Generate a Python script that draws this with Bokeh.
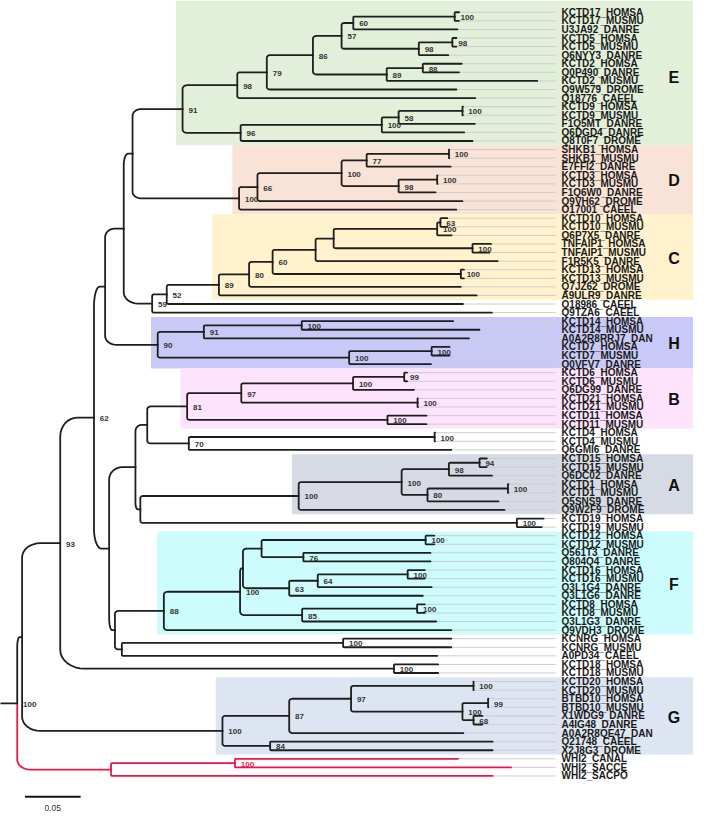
import numpy as np
from bokeh.plotting import figure
from bokeh.models import Range1d
from bokeh.embed import file_html
from bokeh.resources import INLINE
from bokeh.core.properties import value

# ---------------- data ----------------
leaf_names = [
    "KCTD17_HOMSA", "KCTD17_MUSMU", "U3JA92_DANRE", "KCTD5_HOMSA", "KCTD5_MUSMU",
    "Q6NYY3_DANRE", "KCTD2_HOMSA", "Q0P490_DANRE", "KCTD2_MUSMU", "Q9W579_DROME",
    "Q18776_CAEEL", "KCTD9_HOMSA", "KCTD9_MUSMU", "F1Q5MT_DANRE", "Q6DGD4_DANRE",
    "Q8T0F7_DROME", "SHKB1_HOMSA", "SHKB1_MUSMU", "E7FFI2_DANRE", "KCTD3_HOMSA",
    "KCTD3_MUSMU", "F1Q6W0_DANRE", "Q9VH62_DROME", "O17001_CAEEL", "KCTD10_HOMSA",
    "KCTD10_MUSMU", "Q6P7X5_DANRE", "TNFAIP1_HOMSA", "TNFAIP1_MUSMU", "F1R5K5_DANRE",
    "KCTD13_HOMSA", "KCTD13_MUSMU", "Q7JZ62_DROME", "A9ULR9_DANRE", "Q18986_CAEEL",
    "Q9TZA6_CAEEL", "KCTD14_HOMSA", "KCTD14_MUSMU", "A0A2R8RRJ7_DAN", "KCTD7_HOMSA",
    "KCTD7_MUSMU", "Q0VFV7_DANRE", "KCTD6_HOMSA", "KCTD6_MUSMU", "Q6DG99_DANRE",
    "KCTD21_HOMSA", "KCTD21_MUSMU", "KCTD11_HOMSA", "KCTD11_MUSMU", "KCTD4_HOMSA",
    "KCTD4_MUSMU", "Q6GMI6_DANRE", "KCTD15_HOMSA", "KCTD15_MUSMU", "Q6DC02_DANRE",
    "KCTD1_HOMSA", "KCTD1_MUSMU", "Q5SNS9_DANRE", "Q9W2F9_DROME", "KCTD19_HOMSA",
    "KCTD19_MUSMU", "KCTD12_HOMSA", "KCTD12_MUSMU", "Q561T3_DANRE", "Q804Q4_DANRE",
    "KCTD16_HOMSA", "KCTD16_MUSMU", "Q3L1G4_DANRE", "Q3L1G6_DANRE", "KCTD8_HOMSA",
    "KCTD8_MUSMU", "Q3L1G3_DANRE", "Q9VDH3_DROME", "KCNRG_HOMSA", "KCNRG_MUSMU",
    "A0PD34_CAEEL", "KCTD18_HOMSA", "KCTD18_MUSMU", "KCTD20_HOMSA", "KCTD20_MUSMU",
    "BTBD10_HOMSA", "BTBD10_MUSMU", "X1WDG9_DANRE", "A4IG48_DANRE", "A0A2R8QE47_DAN",
    "Q21748_CAEEL", "X2J8G3_DROME", "WHI2_CANAL", "WHI2_SACCE", "WHI2_SACPO",
]

# distance from the root (substitutions / site)
leaf_depth = [
    0.3965, 0.3965, 0.3951, 0.3941, 0.3941, 0.3868, 0.3989, 0.3965, 0.4667, 0.3941,
    0.4111, 0.4000, 0.4000, 0.4107, 0.4011, 0.4086, 0.3877, 0.3877, 0.3890, 0.3772,
    0.3772, 0.3754, 0.3996, 0.3941, 0.3860, 0.3860, 0.3899, 0.4252, 0.4237, 0.4312,
    0.4009, 0.4009, 0.3981, 0.4123, 0.4000, 0.4261, 0.3912, 0.4149, 0.4055, 0.3880,
    0.3880, 0.3714, 0.3498, 0.3498, 0.3561, 0.3596, 0.3596, 0.3673, 0.3673, 0.3750,
    0.3750, 0.3895, 0.4214, 0.4214, 0.4261, 0.4408, 0.4408, 0.4319, 0.4373, 0.4724,
    0.4707, 0.3743, 0.3743, 0.3709, 0.3709, 0.3658, 0.3658, 0.3719, 0.3640, 0.3658,
    0.3658, 0.3760, 0.3896, 0.3895, 0.3895, 0.3770, 0.3778, 0.3778, 0.4096, 0.4096,
    0.4228, 0.4228, 0.4175, 0.4175, 0.4004, 0.4266, 0.4266, 0.3956, 0.4432, 0.4266,
]

node_ids = [
    "e1", "e2", "e3", "e4", "e5", "e6", "e7", "e8", "e9", "e10", "e11", "e12", "e13", "e14", "e15",
    "d1", "d2", "d3", "d4", "d5", "d6", "d7", "p1",
    "c1", "c2", "c3", "c4", "c5", "c6", "c7", "c8", "c9", "c10", "c11", "p2",
    "h1", "h2", "h3", "h4", "h5", "p3",
    "b1", "b2", "b3", "b4", "b5", "b6", "k4", "k5", "s",
    "a1", "a2", "a3", "a4", "a5", "a6", "k19", "t", "r",
    "f1", "f2", "f3", "f4", "f5", "f6", "f7", "f8", "f9", "f10", "f11",
    "kn", "v", "u", "q", "p4", "k18", "n93",
    "g1", "g2", "g3", "g4", "g5", "g6", "g7", "g8", "k", "w1", "w2", "root",
]

node_kids = [
    ["KCTD17_HOMSA", "KCTD17_MUSMU"], ["e1", "U3JA92_DANRE"], ["KCTD5_HOMSA", "KCTD5_MUSMU"],
    ["e3", "Q6NYY3_DANRE"], ["e2", "e4"], ["KCTD2_HOMSA", "Q0P490_DANRE"], ["e6", "KCTD2_MUSMU"],
    ["e5", "e7"], ["e8", "Q9W579_DROME"], ["e9", "Q18776_CAEEL"], ["KCTD9_HOMSA", "KCTD9_MUSMU"],
    ["e11", "F1Q5MT_DANRE"], ["e12", "Q6DGD4_DANRE"], ["e13", "Q8T0F7_DROME"], ["e10", "e14"],
    ["SHKB1_HOMSA", "SHKB1_MUSMU"], ["d1", "E7FFI2_DANRE"], ["KCTD3_HOMSA", "KCTD3_MUSMU"],
    ["d3", "F1Q6W0_DANRE"], ["d2", "d4"], ["d5", "Q9VH62_DROME"], ["d6", "O17001_CAEEL"], ["e15", "d7"],
    ["KCTD10_HOMSA", "KCTD10_MUSMU"], ["c1", "Q6P7X5_DANRE"], ["TNFAIP1_HOMSA", "TNFAIP1_MUSMU"],
    ["c2", "c3"], ["c4", "F1R5K5_DANRE"], ["KCTD13_HOMSA", "KCTD13_MUSMU"], ["c5", "c6"],
    ["c7", "Q7JZ62_DROME"], ["c8", "A9ULR9_DANRE"], ["c9", "Q18986_CAEEL"], ["c10", "Q9TZA6_CAEEL"],
    ["p1", "c11"],
    ["KCTD14_HOMSA", "KCTD14_MUSMU"], ["h1", "A0A2R8RRJ7_DAN"], ["KCTD7_HOMSA", "KCTD7_MUSMU"],
    ["h3", "Q0VFV7_DANRE"], ["h2", "h4"], ["p2", "h5"],
    ["KCTD6_HOMSA", "KCTD6_MUSMU"], ["b1", "Q6DG99_DANRE"], ["KCTD21_HOMSA", "KCTD21_MUSMU"],
    ["b2", "b3"], ["KCTD11_HOMSA", "KCTD11_MUSMU"], ["b4", "b5"], ["KCTD4_HOMSA", "KCTD4_MUSMU"],
    ["k4", "Q6GMI6_DANRE"], ["b6", "k5"],
    ["KCTD15_HOMSA", "KCTD15_MUSMU"], ["a1", "Q6DC02_DANRE"], ["KCTD1_HOMSA", "KCTD1_MUSMU"],
    ["a3", "Q5SNS9_DANRE"], ["a2", "a4"], ["a5", "Q9W2F9_DROME"], ["KCTD19_HOMSA", "KCTD19_MUSMU"],
    ["a6", "k19"], ["s", "t"],
    ["KCTD12_HOMSA", "KCTD12_MUSMU"], ["Q561T3_DANRE", "Q804Q4_DANRE"], ["f1", "f2"],
    ["KCTD16_HOMSA", "KCTD16_MUSMU"], ["f4", "Q3L1G4_DANRE"], ["f5", "Q3L1G6_DANRE"], ["f3", "f6"],
    ["KCTD8_HOMSA", "KCTD8_MUSMU"], ["f8", "Q3L1G3_DANRE"], ["f7", "f9"], ["f10", "Q9VDH3_DROME"],
    ["KCNRG_HOMSA", "KCNRG_MUSMU"], ["kn", "A0PD34_CAEEL"], ["f11", "v"], ["r", "u"], ["p3", "q"],
    ["KCTD18_HOMSA", "KCTD18_MUSMU"], ["p4", "k18"],
    ["KCTD20_HOMSA", "KCTD20_MUSMU"], ["BTBD10_HOMSA", "BTBD10_MUSMU"], ["X1WDG9_DANRE", "A4IG48_DANRE"],
    ["g2", "g3"], ["g1", "g4"], ["g5", "A0A2R8QE47_DAN"], ["Q21748_CAEEL", "X2J8G3_DROME"],
    ["g6", "g7"], ["n93", "g8"], ["WHI2_CANAL", "WHI2_SACCE"], ["w1", "WHI2_SACPO"], ["k", "w2"],
]

node_depth = [
    0.3926, 0.3016, 0.3905, 0.3604, 0.2911, 0.3640, 0.3316, 0.2654, 0.2240, 0.1975,
    0.3996, 0.3423, 0.3272, 0.2005, 0.1484,
    0.3875, 0.3136, 0.3769, 0.3423, 0.2911, 0.2156, 0.1991, 0.1035,
    0.3798, 0.3769, 0.4086, 0.2840, 0.2678, 0.3981, 0.2292, 0.2081, 0.1810, 0.1342, 0.1211, 0.0956,
    0.2553, 0.1675, 0.3719, 0.2979, 0.1261, 0.0789,
    0.3473, 0.3014, 0.3593, 0.2011, 0.3323, 0.1525, 0.3746, 0.1540, 0.1167,
    0.4149, 0.3874, 0.4404, 0.3682, 0.3450, 0.2526, 0.4484, 0.1105, 0.1061,
    0.3665, 0.2568, 0.2193, 0.3504, 0.2697, 0.2441, 0.2026, 0.3589, 0.2557, 0.2000, 0.1316,
    0.2925, 0.0939, 0.0877, 0.0825, 0.0689, 0.3381, 0.0386,
    0.4095, 0.4226, 0.4095, 0.3996, 0.2996, 0.2441, 0.2270, 0.1842, 0.0044, 0.1954, 0.0842, 0.0,
]

node_support = [
    "100", "60", "98", "98", "57", "88", "89", "86", "79", "98", "100", "58", "100", "96", "91",
    "100", "77", "100", "98", "100", "66", "100", "",
    "63", "100", "100", "", "", "100", "60", "80", "89", "52", "59", "",
    "100", "91", "100", "100", "90", "",
    "99", "100", "100", "97", "100", "81", "100", "70", "",
    "94", "98", "100", "80", "100", "100", "100", "", "",
    "100", "76", "", "100", "64", "63", "", "100", "85", "100", "88",
    "100", "", "", "", "62", "100", "93",
    "100", "99", "68", "100", "97", "87", "84", "100", "", "100", "", "100",
]

group_names = ["E", "D", "C", "H", "B", "A", "F", "G"]
group_root = ["e15", "d7", "c9", "h5", "b6", "a6", "f11", "g8"]
group_first = ["KCTD17_HOMSA", "SHKB1_HOMSA", "KCTD10_HOMSA", "KCTD14_HOMSA",
               "KCTD6_HOMSA", "KCTD15_HOMSA", "KCTD12_HOMSA", "KCTD20_HOMSA"]
group_last = ["Q8T0F7_DROME", "O17001_CAEEL", "A9ULR9_DANRE", "Q0VFV7_DANRE",
              "KCTD11_MUSMU", "Q9W2F9_DROME", "Q9VDH3_DROME", "X2J8G3_DROME"]
group_colors = ["#e2efd9", "#f9e2d6", "#fff2cc", "#c9c9f7",
                "#fde3fc", "#d6dae4", "#ccfcfc", "#dce5f1"]

outgroup_root = "w2"
root_stub = 0.015
scale_len = 0.05

# ---------------- layout helpers ----------------
PXX = 1 / 1140.0     # tree units per reference pixel (x)
PXY = 1 / 8.75       # leaf rows per reference pixel (y)
X0 = -root_stub
X1 = X0 + 709 * PXX
Y0 = -12 * PXY
Y1 = Y0 + 828 * PXY

leaf_idx = {n: i for i, n in enumerate(leaf_names)}
X = {n: d for n, d in zip(leaf_names, leaf_depth)}
Y = {n: float(i) for i, n in enumerate(leaf_names)}
KIDS = {}
for nid, kids, d in zip(node_ids, node_kids, node_depth):
    KIDS[nid] = kids
    X[nid] = d
    Y[nid] = (Y[kids[0]] + Y[kids[-1]]) / 2.0

red = set()
def mark(n):
    red.add(n)
    for c in KIDS.get(n, []):
        mark(c)
mark(outgroup_root)

def corner_path(xp, yp, xc, yc):
    dyp = (yc - yp) / PXY
    dxp = (xc - xp) / PXX
    s = 1.0 if dyp > 0 else -1.0
    ry = min(0.15 * abs(dyp), 20.0)
    rx = min(1.3 * ry, 0.5 * dxp) if dxp > 0 else 0.0
    if ry < 0.6 or rx < 0.6:
        return [xp, xp, xc], [yp, yc, yc]
    xs = [xp, xp]
    ys = [yp, yc - s * ry * PXY]
    for t in np.linspace(0, np.pi / 2, 9)[1:]:
        xs.append(xp + rx * PXX * (1 - np.cos(t)))
        ys.append(yc - s * ry * PXY * (1 - np.sin(t)))
    xs.append(xc)
    ys.append(yc)
    return xs, ys

p = figure(width=693, height=812, x_range=Range1d(X0, X1), y_range=Range1d(Y1, Y0),
           output_backend="svg", toolbar_location=None, min_border=0,
           outline_line_color=None, background_fill_color="white")
p.axis.visible = False
p.grid.visible = False

# group boxes
box_l, box_r, box_t, box_b, gx, gy = [], [], [], [], [], []
for g, rt, f, l in zip(group_names, group_root, group_first, group_last):
    fi, li = leaf_idx[f], leaf_idx[l]
    box_l.append(X[rt] - 0.006)
    box_r.append(X1)
    box_t.append(fi - 0.5 if fi > 0 else Y0)
    box_b.append(li + 0.5)
    gx.append(X0 + 689 * PXX)
    gy.append((fi + li) / 2.0 + 0.15)
p.quad(left=box_l, right=box_r, top=box_t, bottom=box_b, fill_color=group_colors,
       line_color=None)

# leader lines
lead_end = X0 + 568 * PXX
p.segment(x0=leaf_depth, y0=list(range(len(leaf_names))), x1=[lead_end] * len(leaf_names),
          y1=list(range(len(leaf_names))), line_color="#cdcdcd", line_width=1)

# branches
bx, by, bc = [], [], []
for nid in node_ids:
    for c in KIDS[nid]:
        xs, ys = corner_path(X[nid], Y[nid], X[c], Y[c])
        bx.append(xs)
        by.append(ys)
        bc.append("#e8194a" if c in red else "#1e1e1e")
bx.append([X0, X["root"]])
by.append([Y["root"], Y["root"]])
bc.append("#1e1e1e")
p.multi_line(xs=bx, ys=by, line_color=bc, line_width=1.8, line_join="round", line_cap="round")

# support values
sx, sy, st, sc = [], [], [], []
for nid, sup in zip(node_ids, node_support):
    if sup:
        sx.append(X[nid] + 6 * PXX)
        sy.append(Y[nid] + 1 * PXY)
        st.append(sup)
        sc.append("#e8194a" if nid in red and nid != outgroup_root else "#333333")
p.text(x=sx, y=sy, text=st, text_color=sc, text_font=value("Liberation Sans"),
       text_font_size="8px", text_font_style="bold",
       text_baseline="middle", text_align="left")

# leaf labels
p.text(x=[X0 + 574 * PXX] * len(leaf_names), y=list(range(len(leaf_names))), text=leaf_names,
       text_font=value("Liberation Sans"), text_font_size="10px", text_font_style="bold",
       text_color="#1a1a1a", text_baseline="middle", text_align="left")

# group letters
p.text(x=gx, y=gy, text=group_names, text_font=value("Liberation Sans"), text_font_size="16px",
       text_font_style="bold", text_color="#111111", text_baseline="middle", text_align="center")

# scale bar
sb_x0 = X0 + 25 * PXX
sb_y = Y0 + 812 * PXY
p.line(x=[sb_x0, sb_x0 + scale_len], y=[sb_y, sb_y], line_color="#111111", line_width=2)
p.text(x=[sb_x0 + scale_len / 2], y=[sb_y + 11 * PXY], text=[str(scale_len)],
       text_font=value("Liberation Sans"), text_font_size="8.5px", text_color="#333333",
       text_baseline="middle", text_align="center")

open("out.html", "w").write(file_html(p, INLINE))
